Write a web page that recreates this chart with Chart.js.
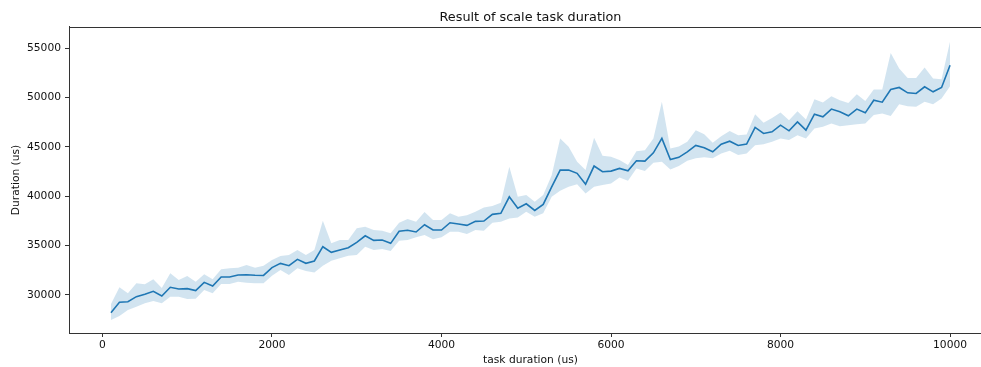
<!DOCTYPE html>
<html>
<head>
<meta charset="utf-8">
<script src="https://cdn.jsdelivr.net/npm/chart.js@4/dist/chart.umd.min.js"></script>
<style>
  html, body { margin: 0; padding: 0; background: #fff; overflow: hidden; }
  #wrap { width: 1000px; height: 367px; }
</style>
</head>
<body>
<div id="wrap"><canvas id="chart" width="1000" height="367"></canvas></div>
<script>
// Task duration requested (us)
const taskDuration = [
  100, 200, 300, 400, 500, 600, 700, 800, 900, 1000,
  1100, 1200, 1300, 1400, 1500, 1600, 1700, 1800, 1900, 2000,
  2100, 2200, 2300, 2400, 2500, 2600, 2700, 2800, 2900, 3000,
  3100, 3200, 3300, 3400, 3500, 3600, 3700, 3800, 3900, 4000,
  4100, 4200, 4300, 4400, 4500, 4600, 4700, 4800, 4900, 5000,
  5100, 5200, 5300, 5400, 5500, 5600, 5700, 5800, 5900, 6000,
  6100, 6200, 6300, 6400, 6500, 6600, 6700, 6800, 6900, 7000,
  7100, 7200, 7300, 7400, 7500, 7600, 7700, 7800, 7900, 8000,
  8100, 8200, 8300, 8400, 8500, 8600, 8700, 8800, 8900, 9000,
  9100, 9200, 9300, 9400, 9500, 9600, 9700, 9800, 9900, 10000
];

// Mean measured duration of the scale task (us)
const meanDuration = [
  28210, 29260, 29320, 29830, 30070, 30370, 29900, 30780, 30610, 30640,
  30440, 31280, 30910, 31820, 31820, 32020, 32050, 32000, 31980, 32780,
  33200, 32970, 33610, 33210, 33440, 34890, 34320, 34550, 34790, 35330,
  36000, 35530, 35570, 35230, 36450, 36550, 36380, 37120, 36580, 36580,
  37320, 37190, 37050, 37460, 37490, 38170, 38270, 39950, 38800, 39240,
  38570, 39180, 40960, 42650, 42650, 42320, 41230, 43060, 42480, 42550,
  42820, 42580, 43600, 43560, 44400, 45860, 43730, 43940, 44500, 45150,
  44910, 44500, 45280, 45580, 45150, 45280, 46970, 46360, 46530, 47200,
  46630, 47540, 46700, 48320, 48050, 48830, 48550, 48150, 48830, 48450,
  49730, 49530, 50820, 51020, 50480, 50410, 51090, 50580, 51020, 53280
];

// Upper edge of the spread band (us)
const upperDuration = [
  29090, 30780, 30170, 31180, 31080, 31590, 30710, 32200, 31520, 31920,
  31350, 32090, 31590, 32600, 32700, 32770, 33040, 32770, 32970, 33540,
  33950, 34050, 34550, 34050, 34550, 37520, 35230, 35570, 35570, 36750,
  36920, 36580, 36510, 36250, 37320, 37690, 37420, 38400, 37590, 37590,
  38270, 37930, 38070, 38430, 38870, 39010, 39340, 42990, 39950, 40120,
  39450, 40120, 42140, 45860, 45010, 43490, 42650, 45930, 44110, 44010,
  43670, 43160, 44570, 44670, 45860, 49570, 44840, 45050, 45520, 46700,
  46290, 45420, 46090, 46600, 46190, 46260, 48320, 47440, 47940, 48490,
  47710, 48620, 47780, 49840, 49510, 50140, 49730, 49460, 50340, 49660,
  50820, 50820, 54520, 52940, 51990, 51990, 53040, 51920, 51850, 55680
];

// Lower edge of the spread band (us)
const lowerDuration = [
  27470, 27870, 28480, 28820, 29160, 29390, 29160, 29830, 29830, 29600,
  29630, 30510, 30170, 31110, 31110, 31350, 31250, 31180, 31180, 31960,
  32530, 32020, 32700, 32430, 32290, 32970, 33480, 33710, 33980, 34050,
  34890, 34550, 34660, 34460, 35500, 35570, 35840, 36070, 35640, 35840,
  36410, 36410, 36170, 36580, 36510, 37320, 37420, 37760, 37860, 38430,
  37930, 38270, 39950, 40560, 40960, 41230, 40290, 40960, 41130, 41300,
  41910, 41570, 42820, 42550, 43390, 43490, 42720, 43070, 43600, 43840,
  43940, 43840, 44340, 44610, 44170, 44340, 45180, 45280, 45520, 45860,
  45690, 46190, 45860, 46870, 47030, 47380, 47100, 47200, 47300, 47380,
  48220, 48390, 48120, 49330, 49120, 49060, 49570, 49330, 49900, 51150
];

// Axis tick positions
const xTicks = [0, 2000, 4000, 6000, 8000, 10000];
const yTicks = [30000, 35000, 40000, 45000, 50000, 55000];

const toPoints = (ys) => taskDuration.map((x, i) => ({ x: x, y: ys[i] }));

const lineColor = '#1f77b4';
const bandColor = 'rgba(31, 119, 180, 0.2)';
const textColor = '#111';
const spineColor = '#333';

const tickFont = { family: 'DejaVu Sans', size: 10.7 };
const titleFont = { family: 'DejaVu Sans', size: 10.7 };

// Full rectangular frame around the plotting area
const frame = {
  id: 'frame',
  afterDraw(chart) {
    const { ctx, chartArea: a } = chart;
    ctx.save();
    ctx.strokeStyle = spineColor;
    ctx.lineWidth = 1;
    ctx.strokeRect(Math.round(a.left) + 0.5, Math.round(a.top) + 0.5,
                   Math.round(a.right - a.left), Math.round(a.bottom - a.top));
    ctx.restore();
  }
};

const fixedTicks = (values) => (scale) => {
  scale.ticks = values.map((v) => ({ value: v }));
};

new Chart(document.getElementById('chart'), {
  type: 'line',
  data: {
    datasets: [
      {
        label: 'lower',
        data: toPoints(lowerDuration),
        borderWidth: 0,
        pointRadius: 0,
        fill: false,
        order: 1
      },
      {
        label: 'upper',
        data: toPoints(upperDuration),
        borderWidth: 0,
        pointRadius: 0,
        backgroundColor: bandColor,
        fill: 0,
        order: 1
      },
      {
        label: 'mean',
        data: toPoints(meanDuration),
        borderColor: lineColor,
        borderWidth: 1.6,
        pointRadius: 0,
        fill: false,
        tension: 0,
        order: 0
      }
    ]
  },
  options: {
    responsive: false,
    animation: false,
    devicePixelRatio: 1,
    layout: { padding: { left: 3, right: 8, top: 0, bottom: 0 } },
    plugins: {
      legend: { display: false },
      tooltip: { enabled: false },
      title: {
        display: true,
        text: 'Result of scale task duration',
        fullSize: false,
        color: textColor,
        font: { family: 'DejaVu Sans', size: 12.8, weight: 'normal' },
        padding: { top: 9.5, bottom: 2.1 }
      }
    },
    scales: {
      x: {
        type: 'linear',
        min: -395,
        max: 10495,
        afterBuildTicks: fixedTicks(xTicks),
        afterFit(scale) { scale.height = 34; },
        ticks: {
          color: textColor,
          font: tickFont,
          padding: 2,
          maxRotation: 0,
          autoSkip: false,
          callback: (v) => String(v)
        },
        grid: {
          display: true,
          drawOnChartArea: false,
          drawTicks: true,
          tickLength: 4,
          tickColor: spineColor
        },
        border: { display: true, color: spineColor, width: 1 },
        title: {
          display: true,
          text: 'task duration (us)',
          color: textColor,
          font: titleFont,
          padding: { top: 2, bottom: 0.6 }
        }
      },
      y: {
        type: 'linear',
        min: 26150,
        max: 57150,
        afterBuildTicks: fixedTicks(yTicks),
        afterFit(scale) { scale.width = 66; },
        ticks: {
          color: textColor,
          font: tickFont,
          padding: 4,
          autoSkip: false,
          callback: (v) => String(v)
        },
        grid: {
          display: true,
          drawOnChartArea: false,
          drawTicks: true,
          tickLength: 4,
          tickColor: spineColor
        },
        border: { display: true, color: spineColor, width: 1 },
        title: {
          display: true,
          text: 'Duration (us)',
          color: textColor,
          font: titleFont,
          padding: { top: 6.6, bottom: 2 }
        }
      }
    }
  },
  plugins: [frame]
});
</script>
</body>
</html>
